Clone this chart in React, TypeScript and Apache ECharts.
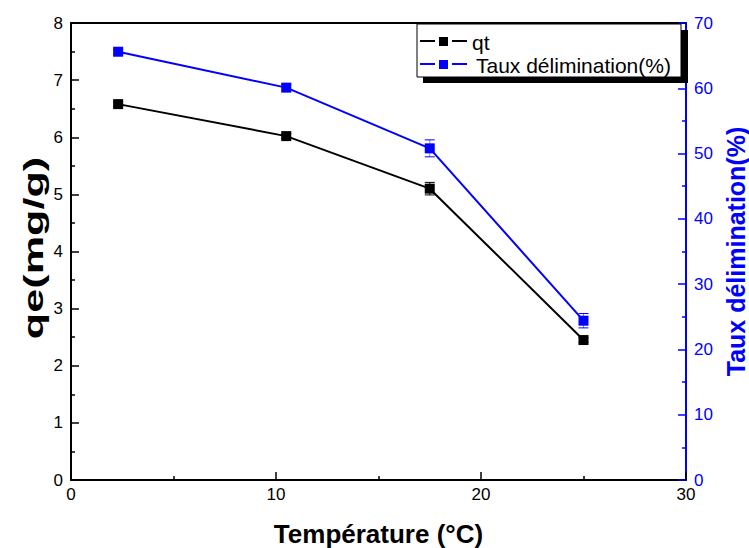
import React, { useEffect, useRef } from "react";
import * as echarts from "echarts";

const temperatures = [2.3, 10.5, 17.5, 25];
const qtValues = [6.58, 6.02, 5.1, 2.45];
const qtErrors = [0.04, 0.04, 0.11, 0.04];
const tauxValues = [65.6, 60.1, 50.8, 24.4];
const tauxErrors = [0.4, 0.5, 1.3, 1.1];
const BLUE = "#0000FF";
const FONT = "'Liberation Sans', Arial, sans-serif";

function errorSeries(values: number[], errs: number[], yIdx: number, color: string, bodyColor: string) {
  return {
    type: "custom",
    yAxisIndex: yIdx,
    z: 1,
    data: temperatures.map((t, i) => [t, values[i] - errs[i], values[i] + errs[i]]),
    renderItem: (params: any, api: any) => {
      const lo = api.coord([api.value(0), api.value(1)]);
      const hi = api.coord([api.value(0), api.value(2)]);
      const w = 5;
      return {
        type: "group",
        children: [
          { type: "line", shape: { x1: lo[0], y1: lo[1], x2: hi[0], y2: hi[1] }, style: { stroke: bodyColor, lineWidth: 1 } },
          { type: "line", shape: { x1: lo[0] - w, y1: lo[1], x2: lo[0] + w, y2: lo[1] }, style: { stroke: color, lineWidth: 1 } },
          { type: "line", shape: { x1: hi[0] - w, y1: hi[1], x2: hi[0] + w, y2: hi[1] }, style: { stroke: color, lineWidth: 1 } },
        ],
      };
    },
  };
}

export default function App() {
  const ref = useRef<HTMLDivElement>(null);
  useEffect(() => {
    if (!ref.current) return;
    const chart = echarts.init(ref.current, undefined, { renderer: "svg" });
    const axisLabel = { fontFamily: FONT, fontSize: 17, color: "#000" };
    const nameStyle = { fontFamily: FONT, fontSize: 26, fontWeight: "bold" as const, color: "#000" };
    chart.setOption({
      animation: false,
      grid: { left: 71, right: 63, top: 23, bottom: 68, containLabel: false, outerBoundsMode: "none" },
      xAxis: [
        {
          type: "value",
          min: 0,
          max: 30,
          interval: 10,
          position: "bottom",
          name: "Température (°C)",
          nameLocation: "middle",
          nameGap: 41,
          nameTextStyle: nameStyle,
          axisLine: { show: true, onZero: false, lineStyle: { color: "#000", width: 2 } },
          axisTick: { show: true, inside: true, length: 8, lineStyle: { color: "#000", width: 1.5 } },
          minorTick: { show: true, splitNumber: 2, length: 4, lineStyle: { color: "#000", width: 1.5 } },
          axisLabel: { ...axisLabel, margin: 6 },
          splitLine: { show: false },
        },
        {
          type: "value",
          min: 0,
          max: 30,
          position: "top",
          axisLine: { show: true, onZero: false, lineStyle: { color: "#000", width: 2 } },
          axisTick: { show: false },
          axisLabel: { show: false },
          splitLine: { show: false },
        },
      ],
      yAxis: [
        {
          type: "value",
          min: 0,
          max: 8,
          interval: 1,
          position: "left",
          axisLine: { show: true, onZero: false, lineStyle: { color: "#000", width: 2 } },
          axisTick: { show: true, inside: true, length: 8, lineStyle: { color: "#000", width: 1.5 } },
          minorTick: { show: true, splitNumber: 2, length: 4, lineStyle: { color: "#000", width: 1.5 } },
          axisLabel: { ...axisLabel, margin: 8 },
          splitLine: { show: false },
        },
        {
          type: "value",
          min: 0,
          max: 70,
          interval: 10,
          position: "right",
          name: "Taux délimination(%)",
          nameLocation: "middle",
          nameGap: 36,
          nameRotate: 90,
          nameTextStyle: { ...nameStyle, fontSize: 25, color: BLUE },
          axisLine: { show: true, onZero: false, lineStyle: { color: BLUE, width: 2 } },
          axisTick: { show: true, inside: true, length: 8, lineStyle: { color: BLUE, width: 1.5 } },
          minorTick: { show: true, splitNumber: 2, length: 4, lineStyle: { color: BLUE, width: 1.5 } },
          axisLabel: { ...axisLabel, color: BLUE, margin: 8 },
          splitLine: { show: false },
        },
      ],
      series: [
        errorSeries(qtValues, qtErrors, 0, "#000", "#000"),
        errorSeries(tauxValues, tauxErrors, 1, BLUE, "#8080FF"),
        {
          type: "line",
          name: "qt",
          yAxisIndex: 0,
          z: 3,
          data: temperatures.map((t, i) => [t, qtValues[i]]),
          symbol: "rect",
          symbolSize: 10,
          itemStyle: { color: "#000" },
          lineStyle: { color: "#000", width: 2 },
        },
        {
          type: "line",
          name: "Taux délimination(%)",
          yAxisIndex: 1,
          z: 3,
          data: temperatures.map((t, i) => [t, tauxValues[i]]),
          symbol: "rect",
          symbolSize: 10,
          itemStyle: { color: BLUE },
          lineStyle: { color: BLUE, width: 2 },
        },
      ],
      graphic: [
        {
          type: "text",
          id: "ytitle",
          x: 34,
          y: 248,
          rotation: Math.PI / 2,
          scaleX: 1.6,
          style: {
            text: "qe(mg/g)",
            font: "bold 27px " + FONT,
            fill: "#000",
            textAlign: "center",
            textVerticalAlign: "middle",
          },
        },
        {
          type: "polygon",
          id: "lshadow",
          z: 100,
          shape: { points: [[681, 30], [688, 30], [688, 83], [423, 83], [423, 77], [681, 77]] },
          style: { fill: "#000" },
        },
        {
          type: "rect",
          id: "lbox",
          z: 101,
          shape: { x: 417, y: 24, width: 264, height: 53 },
          style: { fill: "#fff", stroke: "#000", lineWidth: 1 },
        },
        { type: "line", id: "l1a", z: 102, shape: { x1: 420, y1: 41, x2: 435, y2: 41 }, style: { stroke: "#000", lineWidth: 2 } },
        { type: "line", id: "l1b", z: 102, shape: { x1: 452, y1: 41, x2: 467, y2: 41 }, style: { stroke: "#000", lineWidth: 2 } },
        { type: "rect", id: "m1", z: 102, shape: { x: 439, y: 37, width: 9, height: 9 }, style: { fill: "#000" } },
        { type: "text", id: "t1", z: 102, x: 472, y: 42, style: { text: "qt", font: "21px " + FONT, fill: "#000", textVerticalAlign: "middle" } },
        { type: "line", id: "l2a", z: 102, shape: { x1: 420, y1: 64, x2: 435, y2: 64 }, style: { stroke: BLUE, lineWidth: 2 } },
        { type: "line", id: "l2b", z: 102, shape: { x1: 452, y1: 64, x2: 467, y2: 64 }, style: { stroke: BLUE, lineWidth: 2 } },
        { type: "rect", id: "m2", z: 102, shape: { x: 439, y: 60, width: 9, height: 9 }, style: { fill: BLUE } },
        { type: "text", id: "t2", z: 102, x: 476, y: 65, style: { text: "Taux délimination(%)", font: "21px " + FONT, fill: "#000", textVerticalAlign: "middle" } },
      ],
    });
    return () => chart.dispose();
  }, []);
  return <div ref={ref} style={{ width: 749, height: 548, position: "absolute", left: 0, top: 0 }} />;
}
